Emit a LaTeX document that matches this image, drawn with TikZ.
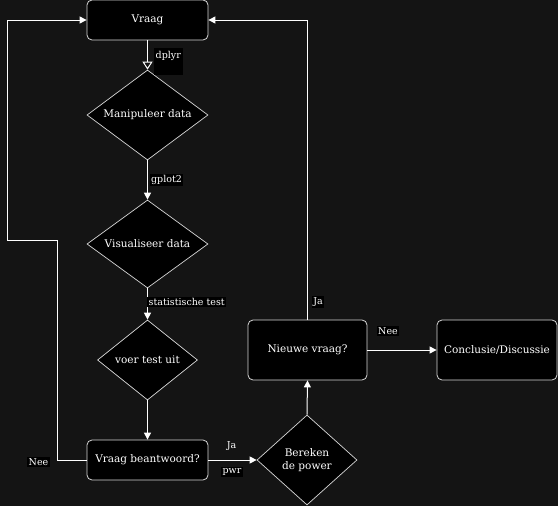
\documentclass[tikz,border=0pt]{standalone}
\usepackage{fontspec}
\setmainfont{DejaVu Serif}
\usetikzlibrary{shapes.geometric, arrows.meta}
\definecolor{bg}{RGB}{20,20,20}
\definecolor{rand}{RGB}{215,215,215}
\tikzset{>={Triangle[length=7pt,width=7pt]}}
\tikzset{
    stap/.style={draw=rand, fill=black, text=white, rounded corners=5pt, line width=0.8pt,
        minimum width=121pt, minimum height=40pt, inner sep=1pt, font=\fontsize{10.5}{12.5}\selectfont},
    keuze/.style={draw=rand, fill=black, text=white, diamond, inner sep=0pt, line width=0.7pt,
        font=\fontsize{10.5}{12.5}\selectfont, align=center},
    pijl/.style={draw=white, line width=1pt},
    etiket/.style={fill=black, text=white, inner sep=1.5pt, font=\fontsize{9.5}{11}\selectfont}
}

\begin{document}
\begin{tikzpicture}[x=1pt, y=-1pt]
    \fill[bg] (0,0) rectangle (558,506);
    \useasboundingbox (0,0) rectangle (558,506);
    % knopen
    \node[stap] (vraag) at (147.5,20) {Vraag};
    \node[keuze, shape aspect=1.34, minimum width=121pt, minimum height=90pt] (manip) at (147.5,115) {Manipuleer data};
    \node[keuze, shape aspect=1.37, minimum width=121pt, minimum height=88pt] (visual) at (147.5,244) {Visualiseer data};
    \node[keuze, minimum width=100pt, minimum height=80pt] (test) at (147.5,360) {voer test uit};
    \node[stap] (beantw) at (147.5,460) {Vraag beantwoord?};
    \node[keuze, minimum width=100pt, minimum height=90pt] (power) at (307,460) {Bereken\\de power};
    \node[stap, minimum width=119pt, minimum height=60pt] (nieuw) at (307.5,350) {Nieuwe vraag?};
    \node[stap, minimum width=120pt, minimum height=60pt] (concl) at (497,350) {Conclusie/Discussie};
    \coordinate (hoek1) at (57,240);
    \coordinate (hoek2) at (7,240);
    % verbindingen
    \draw[pijl, -{Triangle[open,length=8pt,width=10pt]}] (vraag.south) -- (manip.north);
    \draw[pijl, ->] (manip.south) -- (visual.north);
    \draw[pijl, ->] (visual.south) -- (test.north);
    \draw[pijl, ->] (test.south) -- (beantw.north);
    \draw[pijl, ->] (beantw.east) -- (power.west);
    \draw[pijl, ->] (power.north) -- (nieuw.south);
    \draw[pijl, ->] (nieuw.east) -- (concl.west);
    \draw[pijl, ->] (nieuw.north) |- (vraag.east);
    \draw[pijl, ->] (beantw.west) -| (hoek1) -- (hoek2) |- (vraag.west);
    % etiketten
    \node[etiket, anchor=north west, minimum width=29pt, minimum height=27pt] (lbl1) at (154,48) {};
    \node[etiket, anchor=west, fill=none] (dplyr) at (154,55.5) {dplyr};
    \node[etiket] (gplot) at (166.5,180) {gplot2};
    \node[etiket, anchor=west] (stat) at (147,302) {statistische test};
    \node[etiket] (nee1) at (38.5,462) {Nee};
    \node[etiket, fill=none] (ja1) at (231.5,446) {Ja};
    \node[etiket] (pwr) at (232,472) {pwr};
    \node[etiket] (ja2) at (318,302) {Ja};
    \node[etiket] (nee2) at (388,331) {Nee};
\end{tikzpicture}
\end{document}
